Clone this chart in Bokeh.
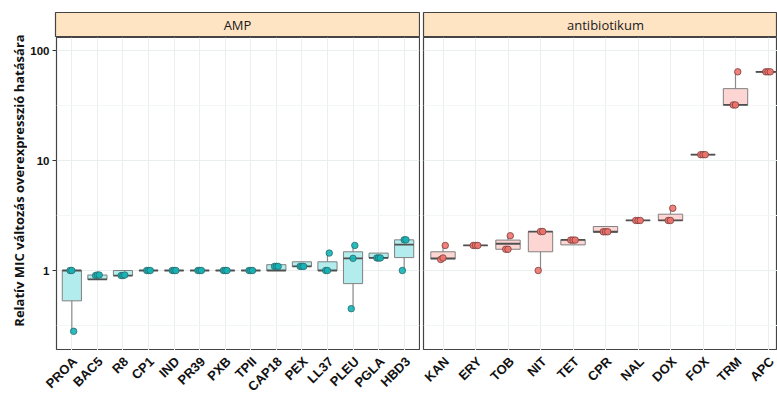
import math
from bokeh.plotting import figure
from bokeh.layouts import row, column
from bokeh.models import (Range1d, FixedTicker, NumeralTickFormatter, Grid, LogScale)
from bokeh.core.properties import value
from bokeh.embed import file_html
from bokeh.resources import INLINE

# ---------------- data ----------------
amp_categories = ["PROA", "BAC5", "R8", "CP1", "IND", "PR39", "PXB", "TPII",
                  "CAP18", "PEX", "LL37", "PLEU", "PGLA", "HBD3"]
amp_low  = [0.28, 0.83, 0.90, 1.0, 1.0, 1.0, 1.0, 1.0, 1.00, 1.09, 1.00, 0.45, 1.30, 1.00]
amp_q1   = [0.53, 0.83, 0.90, 1.0, 1.0, 1.0, 1.0, 1.0, 1.00, 1.09, 1.00, 0.76, 1.30, 1.31]
amp_med  = [1.00, 0.83, 0.90, 1.0, 1.0, 1.0, 1.0, 1.0, 1.00, 1.09, 1.00, 1.29, 1.30, 1.72]
amp_q3   = [1.00, 0.91, 1.00, 1.0, 1.0, 1.0, 1.0, 1.0, 1.13, 1.20, 1.20, 1.48, 1.44, 1.90]
amp_high = [1.00, 0.91, 1.00, 1.0, 1.0, 1.0, 1.0, 1.0, 1.13, 1.20, 1.44, 1.69, 1.44, 1.90]
amp_points = [
    [1.0, 1.0, 0.28], [0.90, 0.91, 0.91], [0.90, 0.90, 0.91], [1.0, 1.0, 1.0],
    [1.0, 1.0, 1.0], [1.0, 1.0, 1.0], [1.0, 1.0, 1.0], [1.0, 1.0, 1.0],
    [1.09, 1.09, 1.09], [1.09, 1.09, 1.09], [1.0, 1.0, 1.44], [0.45, 1.29, 1.69],
    [1.30, 1.30, 1.30], [1.0, 1.90, 1.90],
]

abx_categories = ["KAN", "ERY", "TOB", "NIT", "TET", "CPR", "NAL", "DOX", "FOX", "TRM", "APC"]
abx_low  = [1.26, 1.69, 1.46, 1.00, 1.71, 2.23, 2.85, 2.85, 11.3, 32.0, 64.0]
abx_q1   = [1.27, 1.69, 1.56, 1.48, 1.71, 2.23, 2.85, 2.85, 11.3, 32.0, 64.0]
abx_med  = [1.29, 1.69, 1.75, 2.26, 1.90, 2.25, 2.85, 2.85, 11.3, 32.0, 64.0]
abx_q3   = [1.48, 1.69, 1.89, 2.26, 1.90, 2.51, 2.85, 3.25, 11.3, 45.0, 64.0]
abx_high = [1.69, 1.69, 2.07, 2.26, 1.97, 2.51, 2.85, 3.68, 11.3, 64.0, 64.0]
abx_points = [
    [1.26, 1.30, 1.69], [1.69, 1.69, 1.69], [1.56, 1.56, 2.07], [1.0, 2.26, 2.26],
    [1.89, 1.89, 1.89], [2.25, 2.25, 2.25], [2.85, 2.85, 2.85], [2.85, 2.85, 3.68],
    [11.3, 11.3, 11.3], [32.0, 32.0, 64.0], [64.0, 64.0, 64.0],
]

facet_labels = ["AMP", "antibiotikum"]
y_title = "Relatív MIC változás overexpresszió hatására"
y_ticks = [1, 10, 100]
y_minor = [0.3162, 3.162, 31.62]

# ---------------- styling / layout ----------------
Y_MIN, Y_MAX = 0.1874, 131.3
BOX_W = 0.75
GRID_C = "#E9EFEF"
MINOR_C = "#F3F6F6"
BORDER_C = "#444444"
STRIP_FILL = "#FFE4C4"
TICK_FONT = "Liberation Sans"
LAB_W = 27                 # y-title column
LEFT_W = 420 - LAB_W       # left facet column
RIGHT_W = 777 - 420        # right facet column (cropped like the original)
PANEL_H = 313
STRIP_H = 37
XLAB_H = 394 - STRIP_H - PANEL_H
L_BORDER = 28              # left facet: room for y ticks
R_BORDER = 3               # gap between facets
FACET_W = 364              # full facet width in px


def make_panel(cats, low, q1, med, q3, high, pts, x_end, width, bl, br,
               box_fill, pt_fill, pt_line, show_y):
    n = len(cats)
    xs = list(range(1, n + 1))
    p = figure(width=width, height=PANEL_H,
               x_range=Range1d(0.4, x_end), y_range=Range1d(Y_MIN, Y_MAX),
               y_axis_type="log",
               y_axis_location="left" if show_y else None,
               x_axis_location=None,
               output_backend="svg", toolbar_location=None,
               min_border_left=bl, min_border_right=br,
               min_border_top=0, min_border_bottom=0)
    p.y_scale = LogScale()
    p.center = [r for r in p.center if not isinstance(r, Grid)]
    p.add_layout(Grid(dimension=0, ticker=FixedTicker(ticks=xs),
                      grid_line_color=GRID_C, grid_line_width=1))
    p.add_layout(Grid(dimension=1, ticker=FixedTicker(ticks=y_ticks, minor_ticks=y_minor),
                      grid_line_color=GRID_C, grid_line_width=1,
                      minor_grid_line_color=MINOR_C, minor_grid_line_width=1))
    p.background_fill_color = "white"
    p.outline_line_color = BORDER_C
    p.outline_line_width = 1.2

    if show_y:
        ay = p.yaxis[0]
        ay.ticker = FixedTicker(ticks=y_ticks)
        ay.formatter = NumeralTickFormatter(format="0")
        ay.major_label_text_font = TICK_FONT
        ay.major_label_text_font_style = "bold"
        ay.major_label_text_font_size = "11.5px"
        ay.major_label_text_color = "#111111"
        ay.major_label_standoff = 3
        ay.axis_line_color = None
        ay.major_tick_line_color = "#333333"
        ay.major_tick_out = 4
        ay.major_tick_in = 0
        ay.minor_tick_line_color = None

    # whiskers
    p.segment(x0=xs, x1=xs, y0=q3, y1=high, line_color="#8C8C8C", line_width=1.2)
    p.segment(x0=xs, x1=xs, y0=low, y1=q1, line_color="#8C8C8C", line_width=1.2)
    # boxes
    p.vbar(x=xs, width=BOX_W, bottom=q1, top=q3, fill_color=box_fill,
           line_color="#808080", line_width=1)
    # medians
    p.segment(x0=[x - BOX_W / 2 for x in xs], x1=[x + BOX_W / 2 for x in xs],
              y0=med, y1=med, line_color="#505050", line_width=1.8)
    # points (small fixed horizontal spread)
    offs = [-0.07, 0.0, 0.07]
    px, py = [], []
    for x, vals in zip(xs, pts):
        for k, v in enumerate(vals):
            px.append(x + offs[k % 3])
            py.append(v)
    p.scatter(x=px, y=py, size=6.5, fill_color=pt_fill, line_color=pt_line,
              line_width=0.8, fill_alpha=0.9)
    return p


def make_strip(label, n, x_end, width, bl, br):
    s = figure(width=width, height=STRIP_H,
               x_range=Range1d(0.4, x_end), y_range=Range1d(0, 1),
               x_axis_location=None, y_axis_location=None,
               output_backend="svg", toolbar_location=None,
               min_border_left=bl, min_border_right=br,
               min_border_top=12, min_border_bottom=0)
    s.center = [r for r in s.center if not isinstance(r, Grid)]
    s.background_fill_color = STRIP_FILL
    s.outline_line_color = BORDER_C
    s.outline_line_width = 1.2
    s.text(x=[(n + 1) / 2], y=[0.5], text=[label], text_align="center",
           text_baseline="middle", text_font=value("Open Sans"),
           text_font_size="13px", text_color="#1A1A1A")
    return s


n_amp = len(amp_categories)
n_abx = len(abx_categories)
ppu_l = FACET_W / (n_amp + 0.2)
ppu_r = FACET_W / (n_abx + 0.2)
amp_end = n_amp + 0.6
abx_end = 0.4 + (RIGHT_W - R_BORDER) / ppu_r

pL = make_panel(amp_categories, amp_low, amp_q1, amp_med, amp_q3, amp_high, amp_points,
                amp_end, LEFT_W, L_BORDER, 1, "#B2ECED", "#13B5B8", "#2C6A6B", True)
pR = make_panel(abx_categories, abx_low, abx_q1, abx_med, abx_q3, abx_high, abx_points,
                abx_end, RIGHT_W, R_BORDER, 0, "#FDD6D3", "#F0736E", "#7A3C38", False)
sL = make_strip(facet_labels[0], n_amp, amp_end, LEFT_W, L_BORDER, 1)
sR = make_strip(facet_labels[1], n_abx, abx_end, RIGHT_W, R_BORDER, 0)

# category labels under both facets, each set on its facet's x scale
XL_W = LEFT_W + RIGHT_W
l_start = 0.4 - L_BORDER / ppu_l
r_start = 0.4 - (LEFT_W + R_BORDER) / ppu_r
xl = figure(width=XL_W, height=XLAB_H,
            x_range=Range1d(l_start, l_start + XL_W / ppu_l),
            y_range=Range1d(XLAB_H, 0),
            x_axis_location=None, y_axis_location=None,
            output_backend="svg", toolbar_location=None, min_border=0)
xl.extra_x_ranges = {"abx": Range1d(r_start, r_start + XL_W / ppu_r)}
xl.center = [r for r in xl.center if not isinstance(r, Grid)]
xl.outline_line_color = None
for cats, rng in ((amp_categories, "default"), (abx_categories, "abx")):
    xs = list(range(1, len(cats) + 1))
    xl.text(x=xs, y=[3.5] * len(xs), text=cats, angle=math.pi / 4,
            x_offset=-1.5,
            text_align="right", text_baseline="top", x_range_name=rng,
            text_font=value(TICK_FONT), text_font_style="bold",
            text_font_size="13px", text_color="#111111")

lab = figure(width=LAB_W, height=394, x_range=Range1d(0, LAB_W), y_range=Range1d(394, 0),
             x_axis_location=None, y_axis_location=None,
             output_backend="svg", toolbar_location=None, min_border=0)
lab.center = [r for r in lab.center if not isinstance(r, Grid)]
lab.outline_line_color = None
lab.text(x=[18], y=[180], text=[y_title], angle=math.pi / 2, text_align="center",
         text_baseline="middle", text_font=value("Open Sans"), text_font_style="bold",
         text_font_size="13px", text_color="#111111")

layout = row(lab,
             column(row(sL, sR, spacing=0), row(pL, pR, spacing=0), xl, spacing=0),
             spacing=0)

open("out.html", "w").write(file_html(layout, INLINE))
